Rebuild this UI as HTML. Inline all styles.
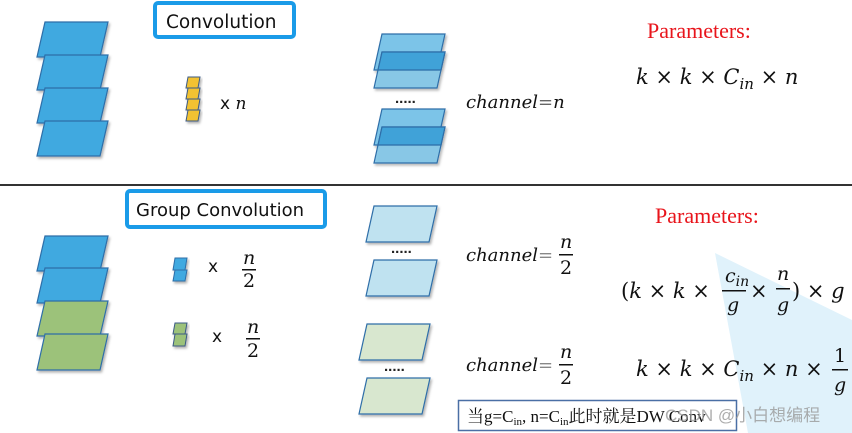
<!DOCTYPE html>
<html><head><meta charset="utf-8"><style>
html,body{margin:0;padding:0;background:#fff;width:852px;height:433px;overflow:hidden}
svg{display:block}
.m{font-family:"DejaVu Serif","Liberation Serif",serif;font-style:italic}
.s{font-family:"DejaVu Sans","Liberation Sans",sans-serif}
</style></head><body>
<svg width="852" height="433" viewBox="0 0 852 433" xmlns="http://www.w3.org/2000/svg">
<defs>
<filter id="sh" x="-10%" y="-10%" width="130%" height="140%"><feDropShadow dx="1.5" dy="2" stdDeviation="1.2" flood-color="#000" flood-opacity="0.3"/></filter>
</defs>
<polygon points="715,253 852,320 852,433 748,433" fill="#e0f2fb"/>

<rect x="155" y="3" width="139" height="34" rx="3" fill="#fff" stroke="#1a9be8" stroke-width="4"/>
<text x="166" y="28" class="s" font-size="18.5" fill="#111">Convolution</text>

<g stroke="#2d6ea8" stroke-width="1.2" fill="#3fa9e0" filter="url(#sh)">
<polygon points="45,22 108,22 100,57 37,57"/>
<polygon points="45,55 108,55 100,90 37,90"/>
<polygon points="45,88 108,88 100,123 37,123"/>
<polygon points="45,121 108,121 100,156 37,156"/>
</g>
<g stroke="#3a5a85" stroke-width="1" fill="#f2c230" filter="url(#sh)">
<polygon points="188,77 200,77 198,88 186,88"/>
<polygon points="188,88 200,88 198,99 186,99"/>
<polygon points="188,99 200,99 198,110 186,110"/>
<polygon points="188,110 200,110 198,121 186,121"/>
</g>
<text x="220" y="109" class="s" font-size="17" fill="#111">x <tspan class="m">n</tspan></text>

<g stroke="#2d6ea8" stroke-width="1.2" filter="url(#sh)">
<polygon points="382,34 445,34 437,70 374,70" fill="#7cc4e8"/>
<polygon points="382,52 445,52 437,88 374,88" fill="#7cc4e8" fill-opacity="0.85"/>
<polygon points="382,52 445,52 441,70 378,70" fill="#3fa2d8"/>
<polygon points="382,109 445,109 437,145 374,145" fill="#7cc4e8"/>
<polygon points="382,127 445,127 437,163 374,163" fill="#7cc4e8" fill-opacity="0.85"/>
<polygon points="382,127 445,127 441,145 378,145" fill="#3fa2d8"/>
</g>
<text x="395" y="103" font-family="Liberation Sans" font-size="15" font-weight="bold" fill="#222">.....</text>
<text x="466" y="108" class="m" font-size="18" fill="#111">channel<tspan font-style="normal" fill="#666">=</tspan>n</text>

<text x="647" y="38" font-family="Liberation Serif" font-size="22" fill="#e8141b">Parameters:</text>
<text x="636" y="84" class="m" font-size="21" fill="#111">k <tspan font-style="normal">×</tspan> k <tspan font-style="normal">×</tspan> C<tspan font-size="15" dy="5">in</tspan><tspan dy="-5" font-style="normal"> ×</tspan> n</text>

<rect x="0" y="184" width="852" height="2" fill="#333"/>

<rect x="127" y="191" width="198" height="36" rx="3" fill="#fff" stroke="#1a9be8" stroke-width="4"/>
<text x="136" y="216" class="s" font-size="18" fill="#111">Group Convolution</text>

<g stroke="#2d6ea8" stroke-width="1.2" filter="url(#sh)">
<polygon points="45,236 108,236 100,271 37,271" fill="#3fa9e0"/>
<polygon points="45,268 108,268 100,303 37,303" fill="#3fa9e0"/>
<polygon points="45,301 108,301 100,336 37,336" fill="#9cc27a"/>
<polygon points="45,334 108,334 100,370 37,370" fill="#9cc27a"/>
</g>
<g stroke="#2d6ea8" stroke-width="1" fill="#3fa9e0" filter="url(#sh)">
<polygon points="175,258 187,258 185,270 173,270"/>
<polygon points="175,270 187,270 185,281 173,281"/>
</g>
<g stroke="#3a5a85" stroke-width="1" fill="#9cc27a" filter="url(#sh)">
<polygon points="175,323 187,323 185,334 173,334"/>
<polygon points="175,334 187,334 185,346 173,346"/>
</g>
<text x="208" y="272" class="s" font-size="17" fill="#111">x</text>
<text x="243" y="264" class="m" font-size="19" fill="#111">n</text>
<rect x="242" y="269" width="14" height="1.5" fill="#111"/>
<text x="243" y="287" font-family="DejaVu Serif" font-size="19" fill="#111">2</text>
<text x="212" y="342" class="s" font-size="17" fill="#111">x</text>
<text x="247" y="333" class="m" font-size="19" fill="#111">n</text>
<rect x="246" y="338" width="14" height="1.5" fill="#111"/>
<text x="247" y="357" font-family="DejaVu Serif" font-size="19" fill="#111">2</text>

<g stroke="#2d6ea8" stroke-width="1.2" filter="url(#sh)" fill="#bfe2f0">
<polygon points="374,206 437,206 429,242 366,242"/>
<polygon points="374,260 437,260 429,296 366,296"/>
</g>
<g stroke="#2d6ea8" stroke-width="1.2" filter="url(#sh)" fill="#d8e7cf">
<polygon points="367,324 430,324 422,360 359,360"/>
<polygon points="367,378 430,378 422,414 359,414"/>
</g>
<text x="391" y="253" font-family="Liberation Sans" font-size="15" font-weight="bold" fill="#222">.....</text>
<text x="384" y="371" font-family="Liberation Sans" font-size="15" font-weight="bold" fill="#222">.....</text>

<text x="466" y="261" class="m" font-size="18" fill="#111">channel<tspan font-style="normal" fill="#888">=</tspan></text>
<text x="560" y="248" class="m" font-size="19" fill="#111">n</text>
<rect x="559" y="254" width="14" height="1.5" fill="#111"/>
<text x="560" y="274" font-family="DejaVu Serif" font-size="19" fill="#111">2</text>
<text x="466" y="371" class="m" font-size="18" fill="#111">channel<tspan font-style="normal" fill="#888">=</tspan></text>
<text x="560" y="358" class="m" font-size="19" fill="#111">n</text>
<rect x="559" y="364" width="14" height="1.5" fill="#111"/>
<text x="560" y="384" font-family="DejaVu Serif" font-size="19" fill="#111">2</text>

<text x="655" y="223" font-family="Liberation Serif" font-size="22" fill="#e8141b">Parameters:</text>

<text x="621" y="298" class="m" font-size="21" fill="#111"><tspan font-style="normal">(</tspan>k <tspan font-style="normal">×</tspan> k <tspan font-style="normal">×</tspan></text>
<text x="725" y="282" class="m" font-size="19" fill="#111">c<tspan font-size="14" dy="4">in</tspan></text>
<rect x="722" y="290" width="24" height="1.5" fill="#111"/>
<text x="727" y="311" class="m" font-size="19" fill="#111">g</text>
<text x="750" y="298" font-family="DejaVu Serif" font-size="21" fill="#111">×</text>
<text x="777" y="280" class="m" font-size="19" fill="#111">n</text>
<rect x="776" y="288" width="14" height="1.5" fill="#111"/>
<text x="777" y="311" class="m" font-size="19" fill="#111">g</text>
<text x="792" y="298" class="m" font-size="21" fill="#111"><tspan font-style="normal">) ×</tspan> g</text>

<text x="636" y="376" class="m" font-size="21" fill="#111">k <tspan font-style="normal">×</tspan> k <tspan font-style="normal">×</tspan> C<tspan font-size="15" dy="5">in</tspan><tspan dy="-5" font-style="normal"> ×</tspan> n <tspan font-style="normal">×</tspan></text>
<text x="834" y="362" font-family="DejaVu Serif" font-size="19" fill="#111">1</text>
<rect x="832" y="369" width="16" height="1.5" fill="#111"/>
<text x="834" y="391" class="m" font-size="19" fill="#111">g</text>

<rect x="458.5" y="400.5" width="278" height="30" fill="#fff" stroke="#4a6fa5" stroke-width="1.5"/>
<text x="467" y="422" font-family="Liberation Serif, Noto Serif CJK SC, serif" font-size="17" fill="#111">当g=C<tspan font-size="11" dy="3">in</tspan><tspan dy="-3">, n=C</tspan><tspan font-size="11" dy="3">in</tspan><tspan dy="-3">此时就是DW Conv</tspan></text>
<text x="665" y="421" font-family="Liberation Sans, Noto Sans CJK SC, sans-serif" font-size="17" fill="#999" fill-opacity="0.8">CSDN @小白想编程</text>
</svg>
</body></html>
